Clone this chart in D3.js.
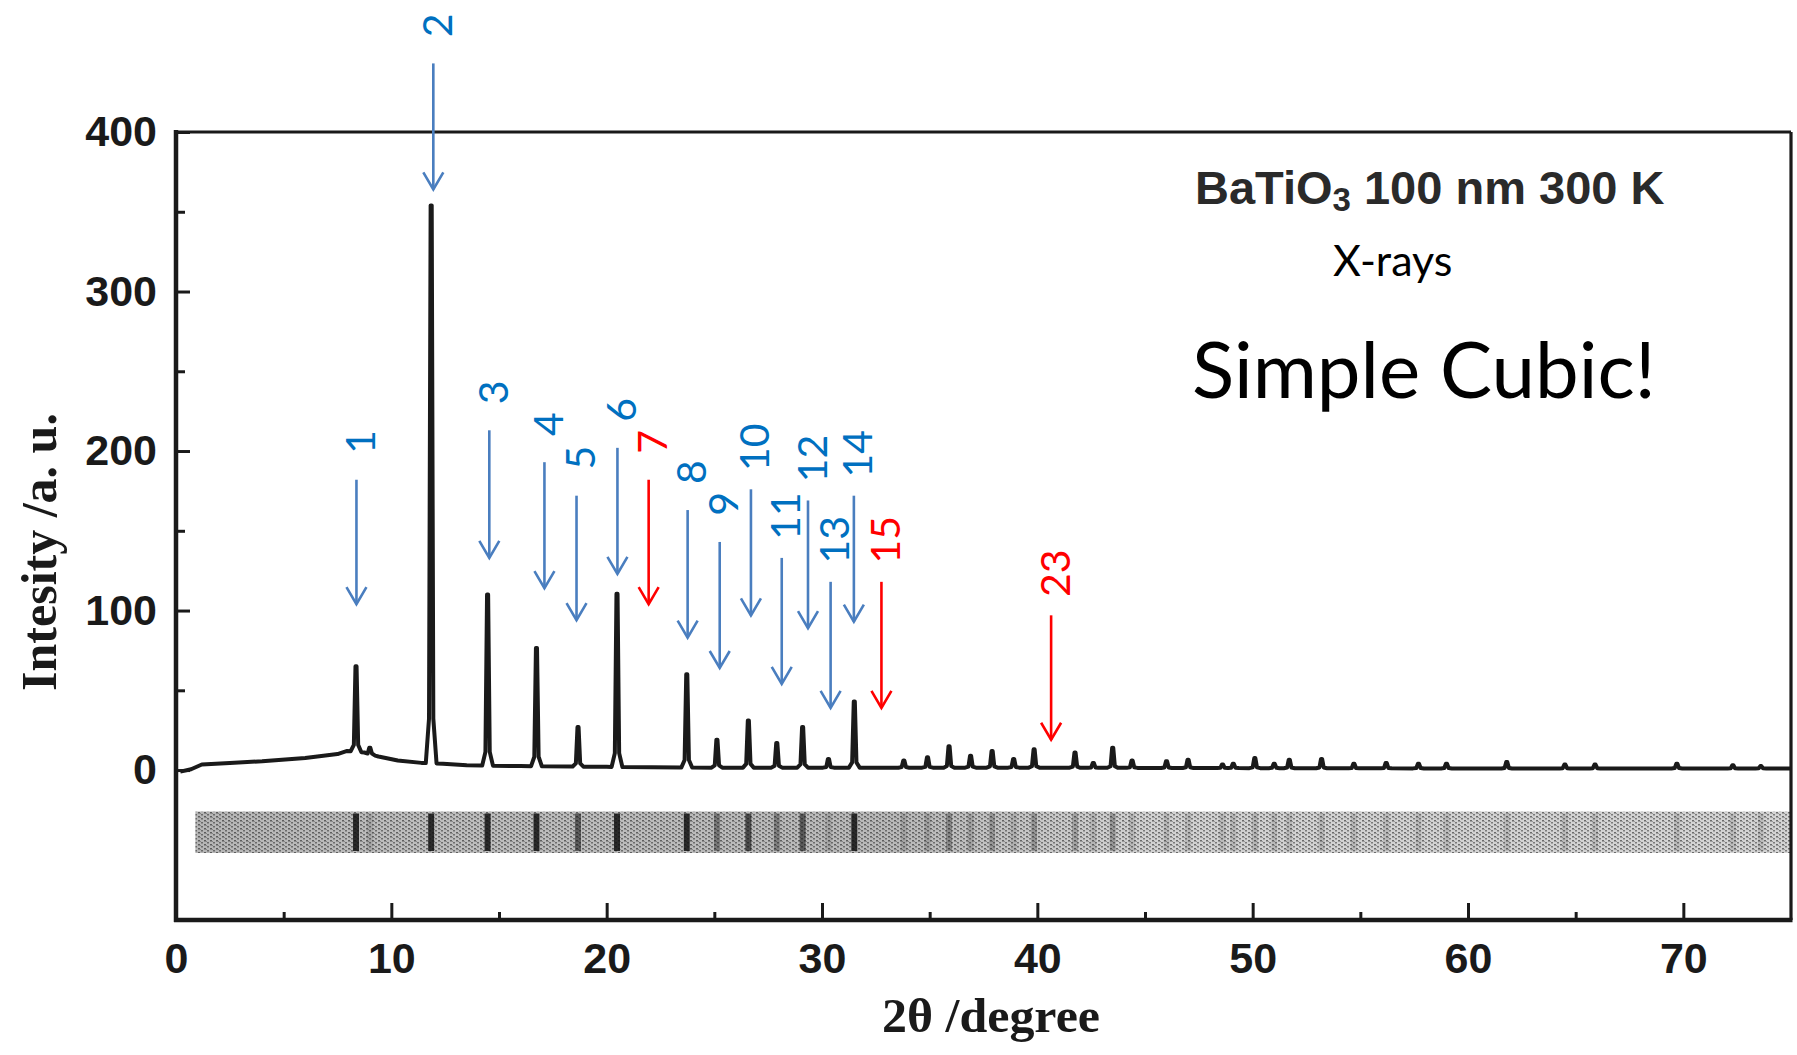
<!DOCTYPE html>
<html><head><meta charset="utf-8">
<script src="https://cdn.jsdelivr.net/npm/d3@7"></script>
<style>body{margin:0;background:#fff}svg{display:block}</style>
</head><body>
<svg id="chart" width="1797" height="1055"></svg>
<script>
// ---- data ----
const xTicks = [0, 10, 20, 30, 40, 50, 60, 70];
const xMinorTicks = [5, 15, 25, 35, 45, 55, 65];
const yTicks = [0, 100, 200, 300, 400];
const yMinorTicks = [50, 150, 250, 350];

// smooth background of the diffraction pattern (2θ, intensity)
const baseX = [0.2, 0.7, 1.2, 2.5, 4.0, 6.0, 7.5, 7.95, 8.75, 9.4, 10.3, 11.4, 12.4, 13.5, 16, 20, 25, 30, 40, 50, 60, 75];
const baseY = [-1, 0.5, 3.5, 4.5, 5.5, 7.5, 10, 12, 11, 8.5, 6, 4.5, 4, 3, 2.5, 2, 1.5, 1.5, 1.5, 1.2, 1, 1];

// Bragg peaks (2θ position, top intensity)
const peakPos = [8.36, 9.0, 11.85, 14.47, 16.74, 18.67, 20.48, 23.72, 25.12, 26.58, 27.9, 29.1, 30.3, 31.5,
  33.8, 34.9, 35.9, 36.9, 37.9, 38.9, 39.85, 41.75, 42.6, 43.5, 44.4, 46.0, 47.0, 48.6, 49.1, 50.1, 51.0,
  51.7, 53.2, 54.7, 56.2, 57.7, 59.0, 61.8, 64.5, 65.9, 69.7, 72.3, 73.6];
const peakHeight = [65, 14, 354, 110, 76.5, 27, 110.5, 60, 19, 31, 17, 27, 7, 43,
  6, 8, 15, 9, 12, 7, 13, 11, 4.5, 14, 6, 5.5, 6.5, 3.5, 4, 7.5, 4,
  6.5, 7, 4, 4.5, 4, 4, 5, 3.5, 3.5, 4, 3, 2.5];

// annotation arrows: label, 2θ, arrow start (intensity), arrow tip (intensity), group
const annoLabels = ["1", "2", "3", "4", "5", "6", "7", "8", "9", "10", "11", "12", "13", "14", "15", "23"];
const annoX = [8.38, 11.95, 14.55, 17.11, 18.6, 20.5, 21.95, 23.76, 25.25, 26.7, 28.13, 29.35, 30.4, 31.48, 32.76, 40.64];
const annoTop = [182, 443, 213, 193, 172, 202, 182, 163, 143, 176, 133, 169, 118, 172, 118, 97];
const annoTip = [104, 364, 133, 114, 94, 123, 104, 83, 64, 97, 54, 89, 39, 93, 39, 19];
const annoGroup = ["sc", "sc", "sc", "sc", "sc", "sc", "missing", "sc", "sc", "sc", "sc", "sc", "sc", "sc", "missing", "missing"];

// film strip band (2θ start/end, intensity top/bottom)
const bandX = [0.9, 75];
const bandY = [-26, -52];

// ---- drawing ----
const svg = d3.select("#chart");
const x = d3.scaleLinear().domain([0, 75]).range([176, 1791]);
const y = d3.scaleLinear().domain([-94, 400]).range([920, 132]);
const baseScale = d3.scaleLinear().domain(baseX).range(baseY);

const defs = svg.append("defs");
const pat = defs.append("pattern").attr("id", "halftone").attr("patternUnits", "userSpaceOnUse")
  .attr("width", 6).attr("height", 4);
pat.append("rect").attr("width", 6).attr("height", 4).attr("fill", "#dcdcdc");
pat.append("rect").attr("x", 0).attr("y", 0).attr("width", 2).attr("height", 1.5).attr("fill", "#707070");
pat.append("rect").attr("x", 3).attr("y", 2).attr("width", 2).attr("height", 1.5).attr("fill", "#808080");
pat.append("rect").attr("x", 2).attr("y", 1).attr("width", 1).attr("height", 1).attr("fill", "#a0a0a0");
const grad = defs.append("linearGradient").attr("id", "bandShade").attr("gradientUnits", "userSpaceOnUse")
  .attr("x1", x(0)).attr("x2", x(75)).attr("y1", 0).attr("y2", 0);
[[0, 0.18], [0.15, 0.14], [0.45, 0.16], [0.6, 0.05], [1, 0.04]].forEach(s =>
  grad.append("stop").attr("offset", s[0]).attr("stop-color", "#000").attr("stop-opacity", s[1]));

// film strip
const band = svg.append("g");
band.append("rect").attr("x", x(bandX[0])).attr("width", x(bandX[1]) - x(bandX[0]))
  .attr("y", y(bandY[0])).attr("height", y(bandY[1]) - y(bandY[0])).attr("fill", "url(#halftone)");
band.append("rect").attr("x", x(bandX[0])).attr("width", x(bandX[1]) - x(bandX[0]))
  .attr("y", y(bandY[0])).attr("height", y(bandY[1]) - y(bandY[0])).attr("fill", "url(#bandShade)");
band.selectAll("line.fl").data(peakPos.map((p, i) => ({p, h: peakHeight[i] - baseScale(p)})))
  .join("line").attr("class", "fl")
  .attr("x1", d => x(d.p)).attr("x2", d => x(d.p))
  .attr("y1", y(bandY[0]) + 2).attr("y2", y(bandY[1]) - 2)
  .attr("stroke", "#111").attr("stroke-width", 6)
  .attr("stroke-opacity", d => Math.max(0.12, Math.min(0.85, d.h / 45)));

// spectrum curve
const fw = 0.25, sk = 0.1, tp = 0.025;
let pts = [];
baseX.forEach((bx, i) => {
  if (!peakPos.some(p => Math.abs(p - bx) < fw)) pts.push([bx, baseY[i]]);
});
peakPos.forEach((p, i) => {
  const b = baseScale(p), h = peakHeight[i], d = h - b;
  pts.push([p - fw, baseScale(p - fw)], [p - sk, b + 0.08 * d], [p - tp, h],
           [p + tp, h], [p + sk, b + 0.08 * d], [p + fw, baseScale(p + fw)]);
});
pts.sort((a, b) => a[0] - b[0]);
svg.append("path").datum(pts)
  .attr("d", d3.line().x(d => x(d[0])).y(d => y(d[1])))
  .attr("fill", "none").attr("stroke", "#1a1a1a").attr("stroke-width", 4)
  .attr("stroke-linejoin", "round");

// axes
const gx = svg.append("g").attr("transform", `translate(0,${y(-94)})`)
  .call(d3.axisBottom(x).tickValues(xTicks).tickSizeInner(-17).tickSizeOuter(0).tickPadding(22));
const gxm = svg.append("g").attr("transform", `translate(0,${y(-94)})`)
  .call(d3.axisBottom(x).tickValues(xMinorTicks).tickSizeInner(-8).tickSizeOuter(0).tickFormat(""));
const gy = svg.append("g").attr("transform", `translate(${x(0)},0)`)
  .call(d3.axisLeft(y).tickValues(yTicks).tickSizeInner(-14).tickSizeOuter(0).tickPadding(19));
const gym = svg.append("g").attr("transform", `translate(${x(0)},0)`)
  .call(d3.axisLeft(y).tickValues(yMinorTicks).tickSizeInner(-9).tickSizeOuter(0).tickFormat(""));
[gx, gxm, gy, gym].forEach(g => {
  g.select(".domain").remove();
  g.selectAll(".tick line").attr("stroke", "#1a1a1a").attr("stroke-width", 3);
  g.selectAll(".tick text").attr("font-family", "'Liberation Sans', Arial, sans-serif")
    .attr("font-weight", "bold").attr("font-size", 43).attr("fill", "#1a1a1a");
});

// frame
const fr = svg.append("g").attr("stroke", "#1a1a1a").attr("fill", "none");
fr.append("line").attr("x1", x(0)).attr("x2", x(0)).attr("y1", y(400) - 2).attr("y2", y(-94) + 2).attr("stroke-width", 4.5);
fr.append("line").attr("x1", x(0) - 2).attr("x2", x(75) + 1.5).attr("y1", y(-94)).attr("y2", y(-94)).attr("stroke-width", 4.5);
fr.append("line").attr("x1", x(0)).attr("x2", x(75)).attr("y1", y(400)).attr("y2", y(400)).attr("stroke-width", 3.2);
fr.append("line").attr("x1", x(75)).attr("x2", x(75)).attr("y1", y(400)).attr("y2", y(-94)).attr("stroke-width", 3.2);

// axis titles
svg.append("text").attr("transform", `translate(56,552) rotate(-90)`)
  .attr("text-anchor", "middle").attr("font-family", "'Liberation Serif', 'Times New Roman', serif")
  .attr("font-weight", "bold").attr("font-size", 50).attr("fill", "#1a1a1a").text("Intesity /a. u.");
svg.append("text").attr("x", 882).attr("y", 1032)
  .attr("font-family", "'Liberation Serif', 'Times New Roman', serif")
  .attr("font-weight", "bold").attr("font-size", 49).attr("fill", "#1a1a1a")
  .attr("textLength", 218).attr("lengthAdjust", "spacingAndGlyphs").text("2θ /degree");

// annotations
const colorOf = {sc: {line: "#4a7ebf", text: "#0070c0"}, missing: {line: "#ff0000", text: "#ff0000"}};
const ann = svg.append("g").selectAll("g").data(annoLabels.map((l, i) => ({
  l, x: annoX[i], top: annoTop[i], tip: annoTip[i], g: annoGroup[i]}))).join("g");
ann.append("line").attr("x1", d => x(d.x)).attr("x2", d => x(d.x))
  .attr("y1", d => y(d.top)).attr("y2", d => y(d.tip))
  .attr("stroke", d => colorOf[d.g].line).attr("stroke-width", 2.6);
ann.append("path").attr("d", d => {
  const cx = x(d.x), cy = y(d.tip);
  return `M${cx - 10},${cy - 17}L${cx},${cy}L${cx + 10},${cy - 17}`;
}).attr("fill", "none").attr("stroke", d => colorOf[d.g].line).attr("stroke-width", 2.6);
ann.append("text")
  .attr("transform", d => `translate(${x(d.x) + 3},${y(d.top) - (34 + 4 * d.l.length)}) rotate(-90)`)
  .attr("text-anchor", "middle").attr("dominant-baseline", "central")
  .attr("font-family", "Lato, 'Open Sans', sans-serif").attr("font-size", 41)
  .attr("fill", d => colorOf[d.g].text).text(d => d.l);

// in-plot texts
const t1 = svg.append("text").attr("x", 1195).attr("y", 204)
  .attr("font-family", "'Liberation Sans', Arial, sans-serif").attr("font-weight", "bold")
  .attr("font-size", 47).attr("fill", "#2a2a2a");
t1.append("tspan").text("BaTiO");
t1.append("tspan").attr("font-size", 33).attr("dy", 7).text("3");
t1.append("tspan").attr("dy", -7).text(" 100 nm 300 K");
svg.append("text").attr("x", 1333).attr("y", 276)
  .attr("font-family", "Lato, 'Open Sans', sans-serif").attr("font-size", 43).attr("fill", "#000").text("X-rays");
svg.append("text").attr("x", 1192).attr("y", 398)
  .attr("font-family", "Lato, 'Open Sans', sans-serif").attr("font-size", 78).attr("fill", "#000").text("Simple Cubic!");
</script>
</body></html>
